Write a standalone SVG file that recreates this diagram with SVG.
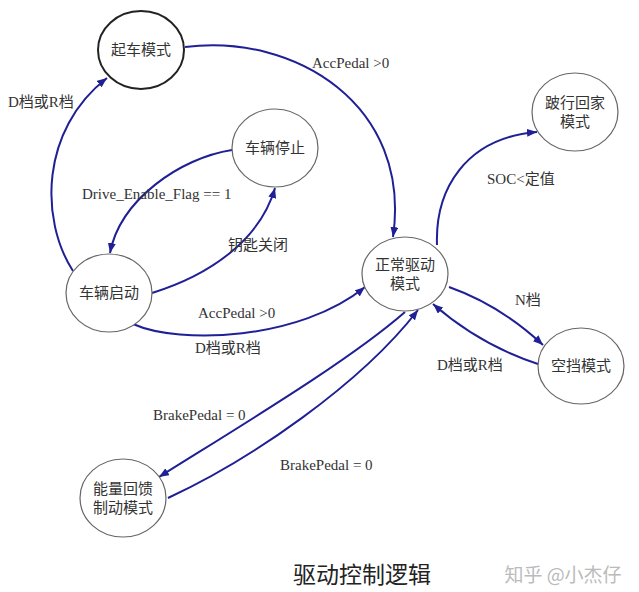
<svg xmlns="http://www.w3.org/2000/svg" width="639" height="592" viewBox="0 0 639 592">
<defs>
<style>
.node ellipse{fill:#fff;stroke:#666;stroke-width:1.2}
.node text{font-family:"Liberation Serif","Noto Sans CJK SC",serif;font-size:15px;fill:#333;text-anchor:middle;dominant-baseline:central}
.edge path{fill:none;stroke:#1f1f96;stroke-width:2;marker-end:url(#arr)}
.lbl{font-family:"Liberation Serif","Noto Sans CJK SC",serif;font-size:15px;fill:#333}
</style>
<marker id="arr" viewBox="0 0 10 8" markerWidth="10" markerHeight="8" refX="10" refY="4" orient="auto" markerUnits="userSpaceOnUse">
<path d="M0,0 L10,4 L0,8 z" fill="#1f1f96"/>
</marker>
</defs>
<rect width="639" height="592" fill="#fff"/>

<g id="connectors" class="edge">
<path id="e1" d="M185,47 C295,33 412,105 393,237"/>
<path id="e2" d="M73,271 C40,220 40,130 107,78"/>
<path id="e3" d="M232,150 C180,158 120,200 110,253"/>
<path id="e4" d="M152,293 C210,275 260,240 275,188"/>
<path id="e5" d="M133,324 C180,345 300,340 365,287"/>
<path id="e6" d="M437,245 C435,190 465,138 537,132"/>
<path id="e7" d="M449,287 Q500,305 543,345"/>
<path id="e8" d="M538,364 Q480,345 433,304"/>
<path id="e9" d="M405,312 C350,360 250,420 159,477"/>
<path id="e10" d="M168,498 C250,460 360,385 418,310"/>
</g>

<g id="labels" class="lbl">
<text x="312" y="68">AccPedal &gt;0</text>
<text x="8" y="107">D档或R档</text>
<text x="82" y="199">Drive_Enable_Flag == 1</text>
<text x="228" y="250">钥匙关闭</text>
<text x="198" y="318">AccPedal &gt;0</text>
<text x="195" y="353">D档或R档</text>
<text x="487" y="184">SOC&lt;定值</text>
<text x="515" y="305">N档</text>
<text x="437" y="370">D档或R档</text>
<text x="153" y="420">BrakePedal = 0</text>
<text x="280" y="470">BrakePedal = 0</text>
</g>

<g id="n-qiche" class="node">
<ellipse cx="141" cy="50" rx="43" ry="39" style="stroke:#222;stroke-width:2"/>
<text x="141" y="50">起车模式</text>
</g>
<g id="n-tingzhi" class="node">
<ellipse cx="275" cy="148" rx="43" ry="39"/>
<text x="275" y="148">车辆停止</text>
</g>
<g id="n-boxing" class="node">
<ellipse cx="575" cy="112" rx="43" ry="39"/>
<text x="575" y="103">跛行回家</text>
<text x="575" y="122">模式</text>
</g>
<g id="n-qidong" class="node">
<ellipse cx="109" cy="293" rx="43" ry="39"/>
<text x="109" y="293">车辆启动</text>
</g>
<g id="n-zhengchang" class="node">
<ellipse cx="405" cy="274" rx="43" ry="37"/>
<text x="405" y="265">正常驱动</text>
<text x="405" y="284">模式</text>
</g>
<g id="n-kongdang" class="node">
<ellipse cx="581" cy="366" rx="43" ry="38"/>
<text x="581" y="366">空挡模式</text>
</g>
<g id="n-nengliang" class="node">
<ellipse cx="123" cy="498" rx="43" ry="39"/>
<text x="123" y="489">能量回馈</text>
<text x="123" y="508">制动模式</text>
</g>

<text x="362" y="573" text-anchor="middle" dominant-baseline="central" font-family="'Noto Sans CJK SC',sans-serif" font-size="23" fill="#222">驱动控制逻辑</text>
<text x="563" y="573" text-anchor="middle" dominant-baseline="central" font-family="'Noto Sans CJK SC',sans-serif" font-size="19" fill="#bbb">知乎 @小杰仔</text>
</svg>
